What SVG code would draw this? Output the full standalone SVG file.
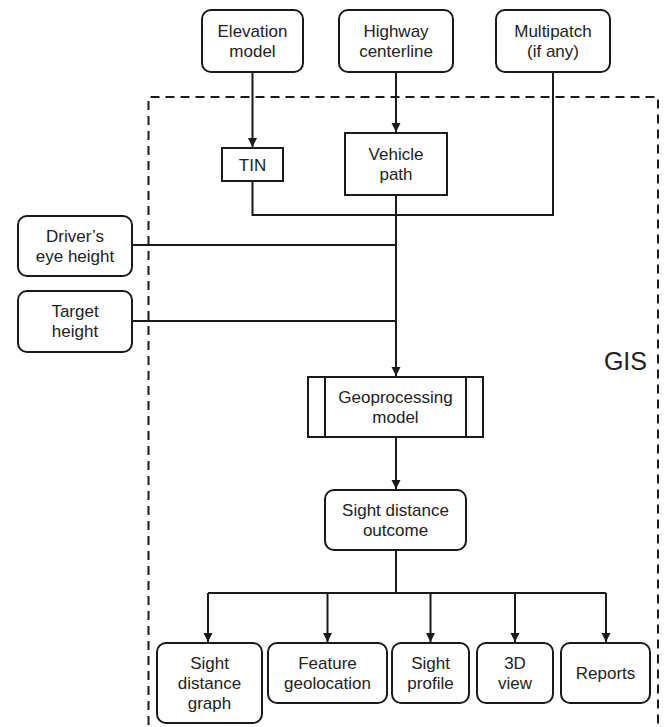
<svg xmlns="http://www.w3.org/2000/svg" width="665" height="727" viewBox="0 0 665 727">
<defs>
<style>
.box{fill:#fff;stroke:#1a1a1a;stroke-width:2}
.t{font-family:"Liberation Sans",Arial,sans-serif;font-size:17px;fill:#222;text-anchor:middle}
.c{fill:none;stroke:#1a1a1a;stroke-width:2}
.dash{fill:none;stroke:#1a1a1a;stroke-width:2;stroke-dasharray:9 6}
</style>
<marker id="ah" markerWidth="10" markerHeight="10" refX="9" refY="5" orient="auto" markerUnits="userSpaceOnUse">
<path d="M0,0.5 L9,5 L0,9.5 Z" fill="#1a1a1a"/>
</marker>
</defs>
<rect width="665" height="727" fill="#fff"/>
<g id="gis-boundary">
<path class="dash" d="M148.5,740 V97 H658 V740"/>
<text x="647" y="370" style="font-family:'Liberation Sans',Arial,sans-serif;font-size:25px;fill:#222;text-anchor:end">GIS</text>
</g>
<g id="connectors">
<path class="c" d="M252.5,72 V147" marker-end="url(#ah)"/>
<path class="c" d="M396,72 V132" marker-end="url(#ah)"/>
<path class="c" d="M252.5,181 V215 H553 V72"/>
<path class="c" d="M396,195 V376" marker-end="url(#ah)"/>
<path class="c" d="M132,245 H396"/>
<path class="c" d="M132,321 H396"/>
<path class="c" d="M396,437 V489" marker-end="url(#ah)"/>
<path class="c" d="M396,550 V593"/>
<path class="c" d="M208,593 H606"/>
<path class="c" d="M208,593 V642" marker-end="url(#ah)"/>
<path class="c" d="M327.5,593 V642" marker-end="url(#ah)"/>
<path class="c" d="M430.5,593 V642" marker-end="url(#ah)"/>
<path class="c" d="M515,593 V642" marker-end="url(#ah)"/>
<path class="c" d="M606,593 V642" marker-end="url(#ah)"/>
</g>
<g id="elevation-model">
<rect class="box" x="202" y="10" width="101" height="62" rx="9"/>
<text class="t" x="252.5" y="37">Elevation</text>
<text class="t" x="252.5" y="57">model</text>
</g>
<g id="highway-centerline">
<rect class="box" x="339" y="10" width="114" height="62" rx="9"/>
<text class="t" x="396" y="37">Highway</text>
<text class="t" x="396" y="57">centerline</text>
</g>
<g id="multipatch">
<rect class="box" x="496" y="10" width="114" height="62" rx="9"/>
<text class="t" x="553" y="37">Multipatch</text>
<text class="t" x="553" y="57">(if any)</text>
</g>
<g id="tin">
<rect class="box" x="222" y="148" width="61" height="33"/>
<text class="t" x="252.5" y="170.5">TIN</text>
</g>
<g id="vehicle-path">
<rect class="box" x="345" y="133" width="102" height="62"/>
<text class="t" x="396" y="160">Vehicle</text>
<text class="t" x="396" y="180">path</text>
</g>
<g id="drivers-eye-height">
<rect class="box" x="18" y="216" width="114" height="60" rx="9"/>
<text class="t" x="75" y="242">Driver’s</text>
<text class="t" x="75" y="262">eye height</text>
</g>
<g id="target-height">
<rect class="box" x="18" y="291" width="114" height="61" rx="9"/>
<text class="t" x="75" y="317">Target</text>
<text class="t" x="75" y="337">height</text>
</g>
<g id="geoprocessing-model">
<rect class="box" x="308" y="377" width="175" height="60"/>
<path class="c" d="M325,377 V437 M466,377 V437"/>
<text class="t" x="395.5" y="403">Geoprocessing</text>
<text class="t" x="395.5" y="423">model</text>
</g>
<g id="sight-distance-outcome">
<rect class="box" x="325" y="490" width="141" height="60" rx="9"/>
<text class="t" x="395.5" y="516">Sight distance</text>
<text class="t" x="395.5" y="536">outcome</text>
</g>
<g id="sight-distance-graph">
<rect class="box" x="157" y="643" width="105" height="80" rx="9"/>
<text class="t" x="209.5" y="669">Sight</text>
<text class="t" x="209.5" y="689">distance</text>
<text class="t" x="209.5" y="709">graph</text>
</g>
<g id="feature-geolocation">
<rect class="box" x="268" y="643" width="119" height="60" rx="9"/>
<text class="t" x="327.5" y="669">Feature</text>
<text class="t" x="327.5" y="689">geolocation</text>
</g>
<g id="sight-profile">
<rect class="box" x="392" y="643" width="77" height="60" rx="9"/>
<text class="t" x="430.5" y="669">Sight</text>
<text class="t" x="430.5" y="689">profile</text>
</g>
<g id="view-3d">
<rect class="box" x="477" y="643" width="76" height="60" rx="9"/>
<text class="t" x="515" y="669">3D</text>
<text class="t" x="515" y="689">view</text>
</g>
<g id="reports">
<rect class="box" x="561" y="643" width="89" height="60" rx="9"/>
<text class="t" x="605.5" y="679">Reports</text>
</g>
</svg>
